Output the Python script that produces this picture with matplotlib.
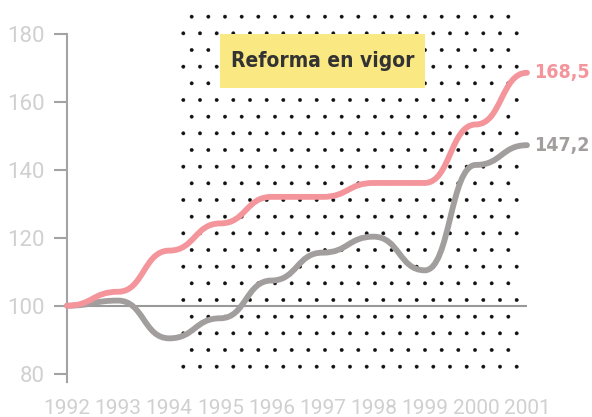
import matplotlib
matplotlib.use("Agg")
import matplotlib.pyplot as plt
from matplotlib.path import Path
from matplotlib.patches import PathPatch, Rectangle

# datos (índice 1992 = 100)
years = list(range(1992, 2002))
reforma = [100, 104.1, 116.2, 124.2, 132.0, 132.0, 136.1, 136.1, 153.3, 168.5]
sin_reforma = [100, 101.5, 90.4, 96.3, 107.4, 115.6, 120.3, 110.4, 141.4, 147.2]
yticks = [80, 100, 120, 140, 160, 180]
labels_fin = ["168,5", "147,2"]

rosa = "#f4959c"
gris = "#a39e9e"
eje = "#a3a3a3"
texto_claro = "#d0d0d0"

plt.rcParams['font.family'] = ['Roboto', 'DejaVu Sans']
plt.rcParams['hatch.linewidth'] = 0.3
negrita = dict(family='DejaVu Sans', stretch='condensed', fontweight='bold')


def bump_path(xs, ys):
    # curva suave tipo "bump": tangente horizontal en cada año
    verts = [(xs[0], ys[0])]
    codes = [Path.MOVETO]
    for i in range(1, len(xs)):
        xm = (xs[i - 1] + xs[i]) / 2
        verts += [(xm, ys[i - 1]), (xm, ys[i]), (xs[i], ys[i])]
        codes += [Path.CURVE4] * 3
    return Path(verts, codes)


fig = plt.figure(figsize=(5.92, 4.17), dpi=100)
ax = fig.add_axes([67 / 592, 35 / 417, 470 / 592, 382 / 417])
ax.set_xlim(1992, 2001.196)
ax.set_ylim(77.56, 189.9)

# zona punteada: reforma en vigor
ax.add_patch(Rectangle((1994.2, 79.5), 6.7, 106.5, facecolor='none',
                       edgecolor='#111111', lw=0, hatch='.', zorder=0))

ax.hlines(100, years[0], years[-1], color='#999999', lw=1.5, zorder=1)

ax.add_patch(Rectangle((1995, 164), 4, 16, facecolor='#fae882', lw=0, zorder=3))
ax.text(1997, 172, "Reforma en vigor", ha='center', va='center', color='#333333',
        fontsize=15, zorder=4, **negrita)

for serie, color, lab in [(sin_reforma, gris, labels_fin[1]), (reforma, rosa, labels_fin[0])]:
    ax.add_patch(PathPatch(bump_path(years, serie), fill=False, edgecolor=color, lw=4.2,
                           capstyle='round', joinstyle='round', zorder=5, clip_on=False))
    ax.annotate(lab, xy=(years[-1], serie[-1]), xytext=(5, 0), textcoords='offset points',
                ha='left', va='center', color=color, fontsize=14,
                annotation_clip=False, **negrita)

ax.set_yticks(yticks)
ax.set_xticks(years)
ax.tick_params(axis='y', length=9.5, width=1.5, color=eje, pad=6.5,
               labelcolor=texto_claro, labelsize=16)
ax.tick_params(axis='x', length=0, pad=12, labelcolor=texto_claro, labelsize=15)

for s in ['top', 'right', 'bottom']:
    ax.spines[s].set_visible(False)
ax.spines['left'].set_color(eje)
ax.spines['left'].set_linewidth(1.5)
ax.spines['left'].set_bounds(77.56, 180)

plt.savefig("out.png", dpi=100)
